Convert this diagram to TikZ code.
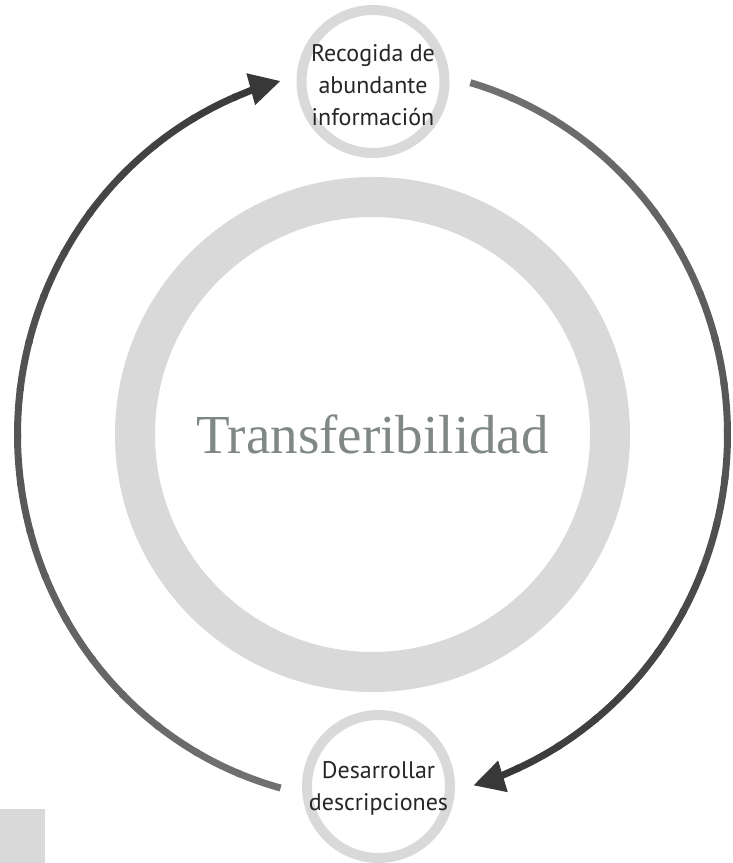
\documentclass[tikz,border=0pt]{standalone}
\usepackage{fontspec}
\newfontfamily\nodefont{PT Sans}
\newfontfamily\titlefont{Liberation Serif}
\usetikzlibrary{arrows.meta}
\definecolor{ringgrey}{HTML}{D9D9D9}
\definecolor{titlegrey}{HTML}{7F8887}
\begin{document}
\begin{tikzpicture}[x=1pt,y=1pt,
  ring/.style={circle, draw=ringgrey, inner sep=0pt},
  smallring/.style={ring, line width=10pt, minimum size=143pt},
  smalltext/.style={align=center, inner sep=0pt, text=black!85,
    font={\nodefont\fontsize{24}{32}\selectfont}},
  bigring/.style={ring, line width=40pt, minimum size=475pt, text=titlegrey,
    font={\titlefont\fontsize{55}{64}\selectfont}},
  arrline/.style={line width=7pt, line cap=butt},
  ]
\useasboundingbox (0,0) rectangle (732,863);
% corner square
\fill[ringgrey] (0,0) rectangle (45,54);
% circles
\coordinate (C) at (372.5,428.5);
\node[bigring] (mid) at (C) {Transferibilidad};
\node[smallring] (top) at (373,781.5) {};
\node[smalltext] (toptext) at ([yshift=-3.5]top.center) {Recogida de\\abundante\\información};
\node[smallring] (bot) at (378.5,76.5) {};
\node[smalltext] (bottext) at ([yshift=-2]bot.center) {Desarrollar\\descripciones};
% curved arrows with gradient
\foreach \s/\e in {255/105, 74/-73.5} {
  \foreach \i in {0,...,19} {
    \pgfmathsetmacro\a{\s+(\e-\s)*max(\i-0.08,0)/20}
    \pgfmathsetmacro\b{\s+(\e-\s)*(\i+1)/20}
    \pgfmathsetmacro\pct{int(56+22*\i/19)}
    \ifnum\i<19
      \draw[arrline, draw=black!\pct] ([shift={(\a:355 and 366)}]C)
        arc[start angle=\a, end angle=\b, x radius=355, y radius=366];
    \else
      \draw[arrline, draw=black!\pct, fill=black!\pct,
        -{Triangle[length=31pt,width=31pt]}] ([shift={(\a:355 and 366)}]C)
        arc[start angle=\a, end angle=\b, x radius=355, y radius=366];
    \fi
  }
}
\end{tikzpicture}
\end{document}
